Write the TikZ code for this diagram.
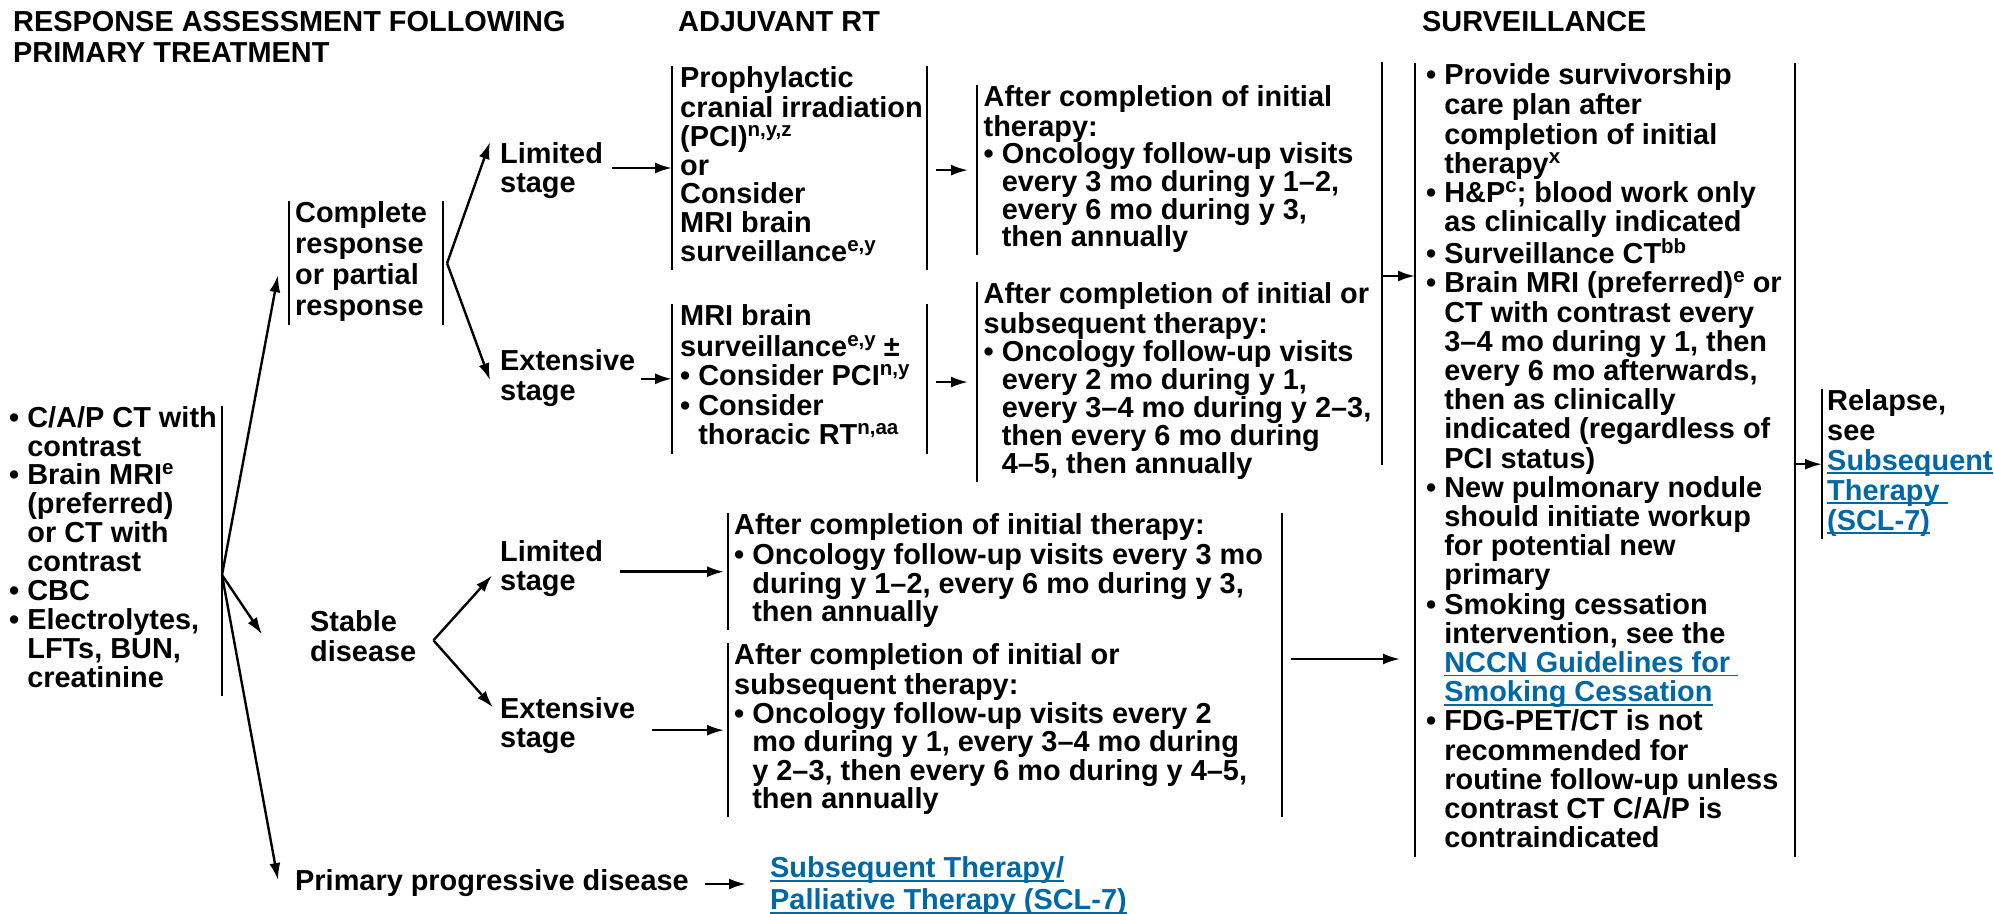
\documentclass[tikz,border=0pt]{standalone}
\usepackage{fontspec}
\setmainfont{Liberation Sans}
\usetikzlibrary{arrows.meta}
\definecolor{linkblue}{RGB}{0,104,166}
\newcommand\sps[1]{\raisebox{0.35em}{\fontsize{20.5}{20.5}\selectfont #1}}
\newcommand\hb{\phantom{\textbullet\ }}
\newcommand\ulink[1]{\textcolor{linkblue}{\setbox0\hbox{#1}\rlap{\rule[-4pt]{\wd0}{1.8pt}}\box0}}
\tikzset{
  txt/.style={anchor=north west, inner sep=0pt, align=left, font=\bfseries\fontsize{28.9}{#1}\selectfont},
  txt/.default=28.9,
  arr/.style={-{Latex[length=17pt,width=11pt]}, line width=2.4pt},
  bar/.style={line width=2.4pt},
}
\begin{document}
\begin{tikzpicture}[x=1pt,y=-1pt]
\useasboundingbox (0,0) rectangle (1994,913);
% column heads
\node[txt=31] (hdresp) at (13,11) {RESPONSE ASSESSMENT FOLLOWING\\PRIMARY TREATMENT};
\node[txt] (hdadj) at (678,11) {ADJUVANT RT};
\node[txt] (hdsurv) at (1422,11) {SURVEILLANCE};
% workup after primary treatment
\node[txt] (workup) at (9,406) {\strut\textbullet\ C/A/P CT with\\\hb contrast\\\textbullet\ Brain MRI\sps{e}\\\hb (preferred)\\\hb or CT with\\\hb contrast\\\textbullet\ CBC\\\textbullet\ Electrolytes,\\\hb LFTs, BUN,\\\hb creatinine\strut};
\coordinate (f0) at (222,575);
\draw[bar] (f0 |- workup.north) -- (f0 |- workup.south);
% responses
\node[txt=31, inner xsep=6pt] (cr) at (289,201) {\strut Complete\\response\\or partial\\response\strut};
\node[txt] (sd) at (310,610) {\strut Stable\\disease\strut};
\node[txt] (ppd) at (295,869) {\strut Primary progressive disease\strut};
\node[txt=32] (link) at (770,855) {\strut\ulink{Subsequent Therapy/}\\\ulink{Palliative Therapy (SCL-7)}};
\draw[arr] (f0) -- ([shift={(-11,12)}]cr.west);
\draw[arr] (f0) -- ([shift={(-48,-6)}]sd.west);
\draw[arr] (f0) -- ([shift={(-17,-4)}]ppd.west);
\draw[arr, shorten <=16pt, shorten >=24pt] (ppd.east) -- (ppd.east -| link.west);
% stages
\node[txt] (ls1) at (500,142) {\strut Limited\\stage\strut};
\node[txt=30] (es1) at (500,349) {\strut Extensive\\stage\strut};
\node[txt] (ls2) at (500,540) {\strut Limited\\stage\strut};
\node[txt] (es2) at (500,697) {\strut Extensive\\stage\strut};
\coordinate (f1) at ([xshift=14pt]cr.east);
\coordinate (f2) at ([xshift=17pt]sd.east);
\draw[bar] ([xshift=10pt]cr.north east) -- ([xshift=10pt]cr.south east);
\draw[arr] (f1) -- ([xshift=-10pt]ls1.north west);
\draw[arr] (f1) -- ([shift={(-10,1)}]es1.west);
\draw[arr] (f2) -- ([shift={(-8,6)}]ls2.west);
\draw[arr] (f2) -- ([shift={(-7,-19)}]es2.west);
% adjuvant RT
\node[txt=28.7, inner xsep=8pt] (pci) at (672,66) {\strut Prophylactic\\cranial irradiation\\(PCI)\sps{n,y,z}\\or\\Consider\\MRI brain\\surveillance\sps{e,y}\strut};
\node[txt=29.5, inner xsep=8pt] (ext) at (672,304) {\strut MRI brain\\surveillance\sps{e,y} ±\\\textbullet\ Consider PCI\sps{n,y}\\\textbullet\ Consider\\\hb thoracic RT\sps{n,aa}\strut};
\coordinate (rb1) at (927,0);
\draw[bar] (pci.north -| rb1) -- (pci.south -| rb1);
\draw[bar] (ext.north -| rb1) -- (ext.south -| rb1);
\draw[arr, shorten <=9pt] (ls1.east |- pci.west) -- (pci.west);
\draw[arr, shorten <=6pt] (es1.east |- ext.west) -- (ext.west);
% follow-up visits
\node[txt=27.6, inner xsep=6.5pt] (ini1) at (977,85) {\strut After completion of initial\\therapy:\\\textbullet\ Oncology follow-up visits\\\hb every 3 mo during y 1–2,\\\hb every 6 mo during y 3,\\\hb then annually\strut};
\node[txt=28, inner xsep=6.5pt] (sub1) at (977,282) {\strut After completion of initial or\\subsequent therapy:\\\textbullet\ Oncology follow-up visits\\\hb every 2 mo during y 1,\\\hb every 3–4 mo during y 2–3,\\\hb then every 6 mo during\\\hb 4–5, then annually\strut};
\draw[arr, shorten <=9pt, shorten >=9pt] (rb1 |- ini1.west) -- (ini1.west);
\draw[arr, shorten <=9pt, shorten >=9pt] (rb1 |- sub1.west) -- (sub1.west);
\node[txt=28.5, inner xsep=6pt] (sd1) at (728,513) {\strut After completion of initial therapy:\\\textbullet\ Oncology follow-up visits every 3 mo\\\hb during y 1–2, every 6 mo during y 3,\\\hb then annually\strut};
\node[txt=28.5, inner xsep=6pt] (sd2) at (728,643) {\strut After completion of initial or\\subsequent therapy:\\\textbullet\ Oncology follow-up visits every 2\\\hb mo during y 1, every 3–4 mo during\\\hb y 2–3, then every 6 mo during y 4–5,\\\hb then annually\strut};
\draw[arr, shorten <=17pt, shorten >=4pt] (ls2.east |- sd1.west) -- (sd1.west);
\draw[arr, shorten <=17pt, shorten >=4pt] (es2.east |- sd2.west) -- (sd2.west);
\coordinate (rb2) at (1282,0);
\draw[bar] (rb2 |- sd1.north) -- (rb2 |- sd2.south);
% surveillance
\node[txt=29.2, inner xsep=11pt] (sv) at (1415,63) {\strut\textbullet\ Provide survivorship\\\hb care plan after\\\hb completion of initial\\\hb therapy\sps{x}\\\textbullet\ H\&P\sps{c}; blood work only\\\hb as clinically indicated\\\textbullet\ Surveillance CT\sps{bb}\\\textbullet\ Brain MRI (preferred)\sps{e} or\\\hb CT with contrast every\\\hb 3–4 mo during y 1, then\\\hb every 6 mo afterwards,\\\hb then as clinically\\\hb indicated (regardless of\\\hb PCI status)\\\textbullet\ New pulmonary nodule\\\hb should initiate workup\\\hb for potential new\\\hb primary\\\textbullet\ Smoking cessation\\\hb intervention, see the\\\hb \ulink{NCCN Guidelines for\ }\\\hb \ulink{Smoking Cessation}\\\textbullet\ FDG-PET/CT is not\\\hb recommended for\\\hb routine follow-up unless\\\hb contrast CT C/A/P is\\\hb contraindicated\strut};
\coordinate (bbt) at (1382,62);
\coordinate (bbb) at (1382,465);
\coordinate (bbm) at (1382,276);
\draw[bar] (bbt) -- (bbb);
\draw[arr] (bbm) -- (bbm -| sv.west);
\coordinate (sdm) at (1282,659);
\draw[arr, shorten <=9pt, shorten >=15pt] (sdm) -- (sdm -| sv.west);
\coordinate (rb3) at (1795,0);
\draw[bar] (sv.north -| rb3) -- (sv.south -| rb3);
\node[txt=30, inner xsep=5pt] (rel) at (1822,389) {\strut Relapse,\\see\\\ulink{Subsequent}\\\ulink{Therapy\ }\\\ulink{(SCL-7)}\strut};
\draw[arr] (rb3 |- rel.west) -- (rel.west);
% bars on the left of each box
\foreach \n in {cr,pci,ext,ini1,sub1,sd1,sd2,sv,rel}
\draw[bar] (\n.north west) -- (\n.south west);
\end{tikzpicture}
\end{document}
